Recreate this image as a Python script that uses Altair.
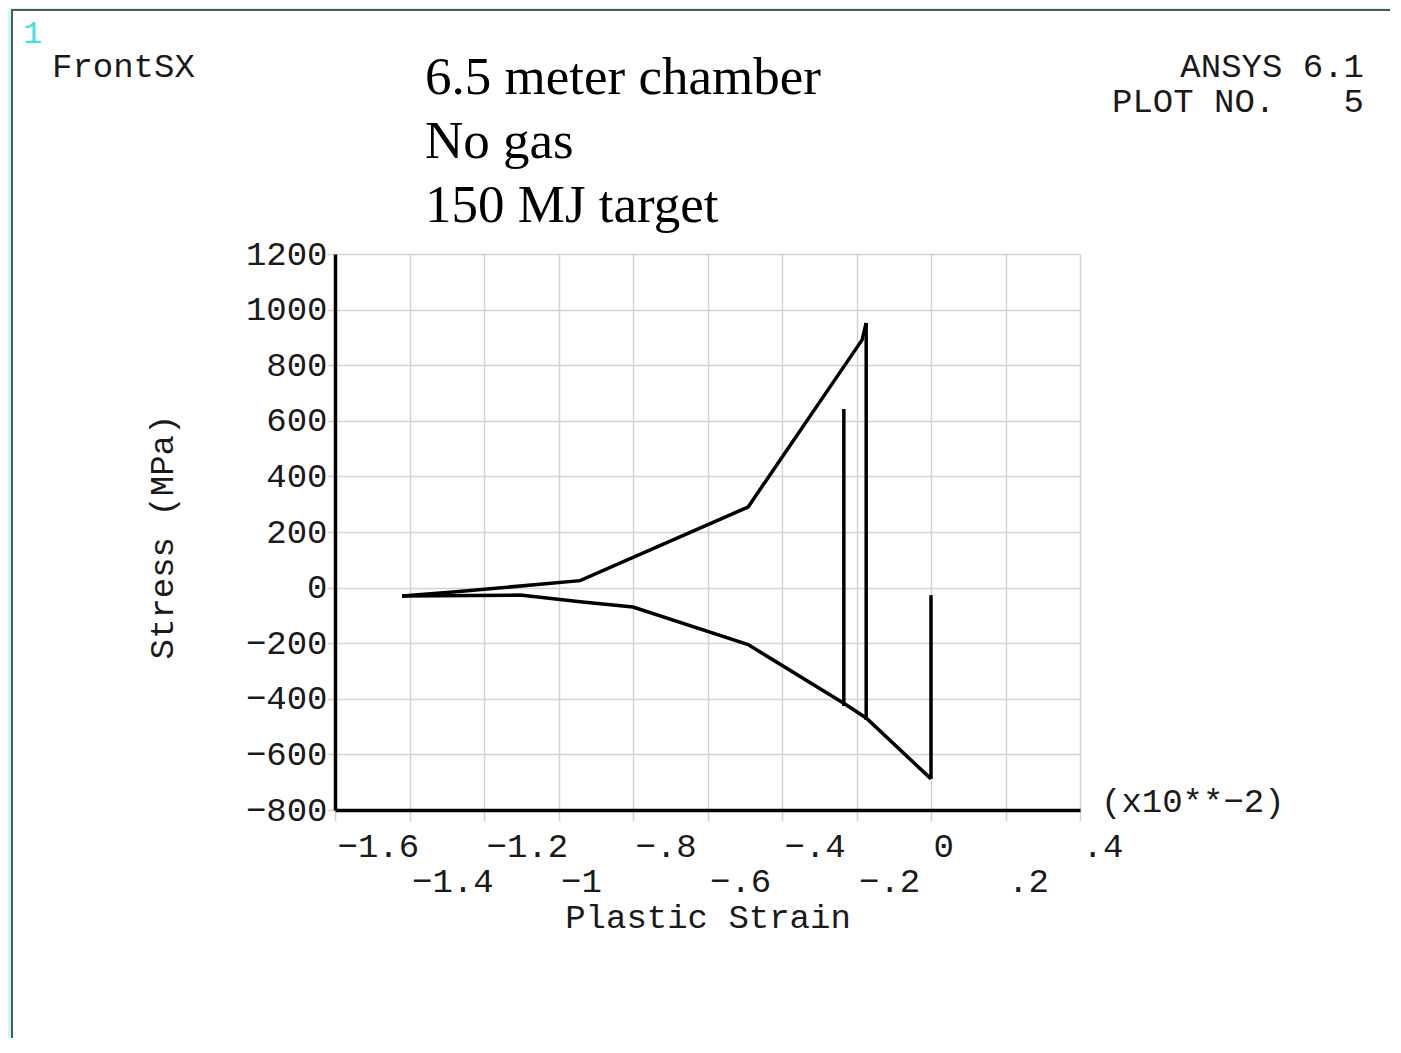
import altair as alt
import pandas as pd

# ---------------- data ----------------
upper_strain = [-1.420, -1.283, -0.942, -0.491, -0.185, -0.174]
upper_stress = [-30, -16, 25, 290, 891, 952]

lower_strain = [-1.420, -1.103, -0.942, -0.800, -0.491, -0.231, -0.174, 0.0]
lower_stress = [-30, -27, -51, -70, -205, -419, -469, -688]

vert_strain = [-0.234, -0.174, 0.0]
vert_bottom = [-426, -476, -688]
vert_top = [642, 952, -27]

x_tick_values = [-1.6, -1.4, -1.2, -1.0, -0.8, -0.6, -0.4, -0.2, 0.0, 0.2, 0.4]
x_tick_labels = ["−1.6", "−1.4", "−1.2", "−1", "−.8", "−.6", "−.4", "−.2", "0", ".2", ".4"]
x_tick_rows = [0, 1, 0, 1, 0, 1, 0, 1, 0, 1, 0]

y_tick_values = [-800, -600, -400, -200, 0, 200, 400, 600, 800, 1000, 1200]
y_tick_labels = ["−800", "−600", "−400", "−200", "0", "200", "400", "600", "800", "1000", "1200"]

title_lines = ["6.5 meter chamber", "No gas", "150 MJ target"]
x_title = "Plastic Strain"
y_title = "Stress  (MPa)"
x_unit = "(x10**−2)"
window_label = "FrontSX"
window_number = "1"
ansys_version = "ANSYS 6.1"
plot_no_label = "PLOT NO."
plot_no_value = "5"

# ---------------- build table ----------------
rows = []
for i, (s, p) in enumerate(zip(upper_strain, upper_stress)):
    rows.append({"seg": "upper", "o": i, "strain": s, "stress": p})
for i, (s, p) in enumerate(zip(lower_strain, lower_stress)):
    rows.append({"seg": "lower", "o": i, "strain": s, "stress": p})
for k, (s, b, t) in enumerate(zip(vert_strain, vert_bottom, vert_top)):
    rows.append({"seg": f"v{k}", "o": 0, "strain": s, "stress": b})
    rows.append({"seg": f"v{k}", "o": 1, "strain": s, "stress": t})
df = pd.DataFrame(rows)

MONO = "Liberation Mono"
SERIF = "Liberation Serif"
TXT = "#1a1a1a"
GRID = "#d2d2d2"

xv = "[" + ",".join(repr(v) for v in x_tick_values) + "]"
xl = "[" + ",".join("'" + l + "'" for l in x_tick_labels) + "]"
odd = "[" + ",".join(repr(v) for v, r in zip(x_tick_values, x_tick_rows) if r == 1) + "]"
yv = "[" + ",".join(repr(v) for v in y_tick_values) + "]"
yl = "[" + ",".join("'" + l + "'" for l in y_tick_labels) + "]"

x_axis = alt.Axis(
    values=x_tick_values,
    labelExpr=f"{xl}[indexof({xv}, datum.value)]",
    labelAlign="left",
    labelBaseline="top",
    labelOffset=2,
    labelPadding={"condition": {"test": f"indexof({odd}, datum.value) >= 0", "value": 43}, "value": 8},
    labelFlush=False,
    labelOverlap=False,
    labelBound=False,
    tickSize=11,
    title=None,
)
y_axis = alt.Axis(
    values=y_tick_values,
    labelExpr=f"{yl}[indexof({yv}, datum.value)]",
    labelPadding=0,
    labelOverlap=False,
    labelFlush=False,
    tickSize=8,
    title=None,
)

lines = alt.Chart(df).mark_line(color="black", strokeWidth=3.5, strokeJoin="miter").encode(
    x=alt.X("strain:Q", scale=alt.Scale(domain=[-1.6, 0.4], nice=False, zero=False), axis=x_axis),
    y=alt.Y("stress:Q", scale=alt.Scale(domain=[-800, 1200], nice=False, zero=False), axis=y_axis),
    detail="seg:N",
    order="o:Q",
)


def text_layer(txt, x, y, **kw):
    return alt.Chart(pd.DataFrame({"t": [txt]})).mark_text(**kw).encode(
        text="t:N", x=alt.value(x), y=alt.value(y)
    )


mono = dict(font=MONO, fontSize=34, color=TXT, baseline="alphabetic")

texts = [
    text_layer("\n".join(title_lines), 90, -160, font=SERIF, fontSize=53, color="black",
               align="left", baseline="alphabetic", lineBreak="\n", lineHeight=64),
    text_layer(window_label, -283, -177, align="left", **mono),
    text_layer(window_number, -312, -211, font=MONO, fontSize=32, color="#44e0e8",
               align="left", baseline="alphabetic"),
    text_layer(ansys_version, 1029, -177, align="right", **mono),
    text_layer(plot_no_label, 777, -142, align="left", **mono),
    text_layer(plot_no_value, 1029, -142, align="right", **mono),
    text_layer(x_unit, 766, 558, align="left", **mono),
    text_layer(x_title, 373, 674, align="center", **mono),
    alt.Chart(pd.DataFrame({"t": [y_title]})).mark_text(
        font=MONO, fontSize=34, color=TXT, align="center", baseline="middle", angle=270
    ).encode(text="t:N", x=alt.value(-172), y=alt.value(283)),
]

frame_df = pd.DataFrame({"k": [0]})
cyan = "#c4fcfc"
frame = [
    alt.Chart(frame_df).mark_rect(color=cyan).encode(
        x=alt.value(-327), x2=alt.value(-324), y=alt.value(-246), y2=alt.value(790)),
    alt.Chart(frame_df).mark_rect(color=cyan).encode(
        x=alt.value(-327), x2=alt.value(1055), y=alt.value(-246), y2=alt.value(-245)),
    alt.Chart(frame_df).mark_rule(color="#555555", strokeWidth=2).encode(
        x=alt.value(-323), y=alt.value(-245), y2=alt.value(790)),
    alt.Chart(frame_df).mark_rule(color="#555555", strokeWidth=2).encode(
        x=alt.value(-323), x2=alt.value(1055), y=alt.value(-244)),
]

chart = alt.layer(lines, *texts, *frame).properties(
    width=745,
    height=556,
    autosize=alt.AutoSizeParams(type="none"),
    padding={"left": 327, "top": 246, "right": 310, "bottom": 228},
    background="white",
).configure_view(stroke=None).configure_axis(
    grid=True,
    gridColor=GRID,
    gridWidth=1.5,
    tickColor=GRID,
    tickWidth=1.5,
    domainColor="black",
    domainWidth=3.5,
    labelFont=MONO,
    labelFontSize=34,
    labelColor=TXT,
)

chart.save("out.html", embed_options={"renderer": "svg", "actions": False})
